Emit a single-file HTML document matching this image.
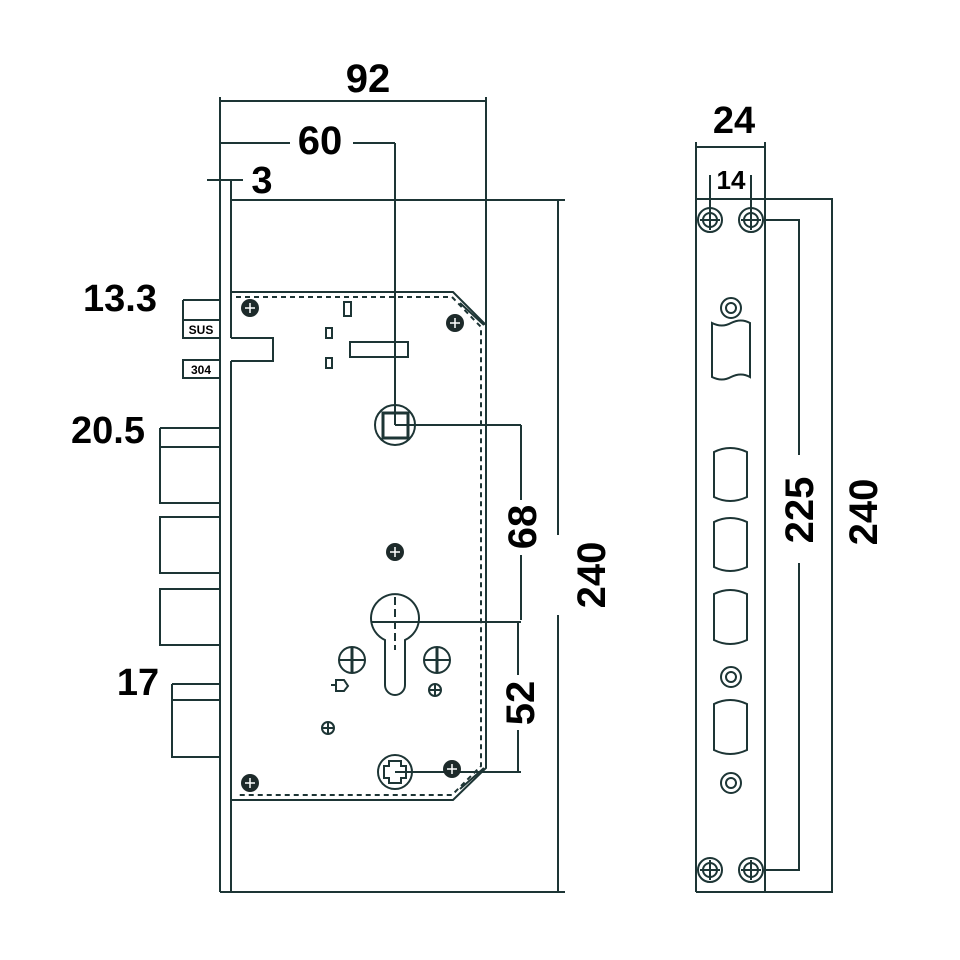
<!DOCTYPE html>
<html><head><meta charset="utf-8"><style>
html,body{margin:0;padding:0;background:#fff}
svg{display:block}
text{font-family:"Liberation Sans",Arial,sans-serif;font-weight:bold;fill:#000}
</style></head><body>
<svg width="960" height="960" viewBox="0 0 960 960" xmlns="http://www.w3.org/2000/svg">
<g stroke="#1d3535" stroke-width="2" fill="none">
<!-- faceplate left -->
<line x1="220" y1="97" x2="220" y2="892"/>
<line x1="231" y1="200" x2="231" y2="338"/>
<line x1="231" y1="361" x2="231" y2="892"/>
<polyline points="231,338 273,338 273,361 231,361"/>
<line x1="220" y1="892" x2="565" y2="892"/>
<!-- dims top -->
<line x1="220" y1="101" x2="486" y2="101"/>
<line x1="486" y1="97" x2="486" y2="325"/>
<line x1="220" y1="143" x2="290" y2="143"/>
<line x1="353" y1="143" x2="395" y2="143"/>
<line x1="395" y1="143" x2="395" y2="425"/>
<line x1="207" y1="180" x2="243" y2="180"/>
<line x1="231" y1="180" x2="231" y2="200"/>
<line x1="231" y1="200" x2="565" y2="200"/>
<line x1="558" y1="200" x2="558" y2="535"/>
<line x1="558" y1="615" x2="558" y2="892"/>
<!-- case -->
<polyline points="231,292 453,292 486,325 486,768 453,800 231,800"/>
<polyline points="236,297 452,297 481,327 481,766 452,795 236,795" stroke-dasharray="5,4"/>
<line x1="460" y1="303" x2="484" y2="325"/>
<line x1="460" y1="789" x2="484" y2="768"/>
<!-- small features -->
<rect x="344" y="302" width="7" height="14"/>
<rect x="326" y="328" width="6" height="10"/>
<rect x="326" y="358" width="6" height="10"/>
<rect x="350" y="342" width="58" height="15"/>
<!-- spindle -->
<circle cx="395" cy="425" r="20"/>
<rect x="383" y="413" width="25" height="25" stroke-width="3"/>
<line x1="395" y1="425" x2="521" y2="425"/>
<line x1="521" y1="425" x2="521" y2="500"/>
<line x1="521" y1="555" x2="521" y2="620"/>
<line x1="372" y1="622" x2="521" y2="622"/>
<line x1="518" y1="622" x2="518" y2="675"/>
<line x1="518" y1="730" x2="518" y2="772"/>
<line x1="395" y1="772" x2="521" y2="772"/>
<!-- cylinder -->
<path d="M385,640 A24,24 0 1 1 405,640 L405,685 A10,10 0 0 1 385,685 Z"/>
<line x1="395" y1="597" x2="395" y2="650" stroke-dasharray="8,4"/>
<circle cx="352" cy="660" r="13"/><line x1="339" y1="660" x2="365" y2="660"/><line x1="352" y1="647" x2="352" y2="673" stroke-width="3"/>
<circle cx="437" cy="660" r="13"/><line x1="424" y1="660" x2="450" y2="660"/><line x1="437" y1="647" x2="437" y2="673" stroke-width="3"/>
<circle cx="435" cy="690" r="6"/><line x1="429" y1="690" x2="441" y2="690"/><line x1="435" y1="684" x2="435" y2="696"/>
<circle cx="328" cy="728" r="6"/><line x1="322" y1="728" x2="334" y2="728"/><line x1="328" y1="722" x2="328" y2="734"/>
<path d="M336,680 L344,680 L348,686 L344,691 L336,691 Z M331,685 L336,685"/>
<circle cx="395" cy="772" r="17"/>
<path d="M389,761 h12 v5 h5 v12 h-5 v5 h-12 v-5 h-5 v-12 h5 z"/>
<!-- bolts -->
<line x1="160" y1="428" x2="220" y2="428"/>
<line x1="160" y1="428" x2="160" y2="503"/>
<rect x="160" y="447" width="60" height="56"/>
<rect x="160" y="517" width="60" height="56"/>
<rect x="160" y="589" width="60" height="56"/>
<line x1="172" y1="684" x2="220" y2="684"/>
<line x1="172" y1="684" x2="172" y2="757"/>
<rect x="172" y="700" width="48" height="57"/>
<line x1="183" y1="300" x2="220" y2="300"/>
<line x1="183" y1="300" x2="183" y2="320"/>
<rect x="183" y="320" width="37" height="18"/>
<rect x="183" y="360" width="37" height="18"/>
<!-- right plate -->
<line x1="696" y1="142" x2="696" y2="892"/>
<line x1="765" y1="142" x2="765" y2="892"/>
<line x1="696" y1="147" x2="765" y2="147"/>
<line x1="696" y1="199" x2="833" y2="199"/>
<line x1="696" y1="892" x2="833" y2="892"/>
<line x1="710" y1="175" x2="710" y2="230"/>
<line x1="751" y1="175" x2="751" y2="230"/>
<line x1="765" y1="220" x2="800" y2="220"/>
<line x1="765" y1="870" x2="800" y2="870"/>
<line x1="799" y1="220" x2="799" y2="455"/>
<line x1="799" y1="563" x2="799" y2="870"/>
<line x1="832" y1="199" x2="832" y2="892"/>
<circle cx="731" cy="308" r="10"/><circle cx="731" cy="308" r="5"/>
<circle cx="731" cy="677" r="10"/><circle cx="731" cy="677" r="5"/>
<circle cx="731" cy="783" r="10"/><circle cx="731" cy="783" r="5"/>
<path d="M712,323 Q722,328 731,323 Q741,318 750,323 L750,377 Q741,372 731,377 Q722,382 712,377 Z"/>
<path d="M714,452 Q730,444 747,452 L747,497 Q730,505 714,497 Z"/>
<path d="M714,522 Q730,514 747,522 L747,567 Q730,575 714,567 Z"/>
<path d="M714,594 Q730,586 747,594 L747,640 Q730,648 714,640 Z"/>
<path d="M714,704 Q730,696 747,704 L747,750 Q730,758 714,750 Z"/>
</g>
<!-- screws filled -->
<g fill="#1d2a2a">
<circle cx="250" cy="308" r="9"/><circle cx="455" cy="323" r="9"/>
<circle cx="395" cy="552" r="9"/><circle cx="250" cy="783" r="9"/><circle cx="452" cy="769" r="9"/>
</g>
<g stroke="#fff" stroke-width="1.5">
<line x1="245" y1="308" x2="255" y2="308"/><line x1="250" y1="303" x2="250" y2="313"/>
<line x1="450" y1="323" x2="460" y2="323"/><line x1="455" y1="318" x2="455" y2="328"/>
<line x1="390" y1="552" x2="400" y2="552"/><line x1="395" y1="547" x2="395" y2="557"/>
<line x1="245" y1="783" x2="255" y2="783"/><line x1="250" y1="778" x2="250" y2="788"/>
<line x1="447" y1="769" x2="457" y2="769"/><line x1="452" y1="764" x2="452" y2="774"/>
</g>
<g stroke="#1d3535" stroke-width="2" fill="none">
<circle cx="710" cy="220" r="12"/><circle cx="710" cy="220" r="7"/>
<circle cx="751" cy="220" r="12"/><circle cx="751" cy="220" r="7"/>
<circle cx="710" cy="870" r="12"/><circle cx="710" cy="870" r="7"/>
<circle cx="751" cy="870" r="12"/><circle cx="751" cy="870" r="7"/>
<path d="M700,220h20M710,210v20M741,220h20M751,210v20M700,870h20M710,860v20M741,870h20M751,860v20"/>
</g>
<!-- text -->
<text x="368" y="92" font-size="40" text-anchor="middle">92</text>
<text x="320" y="154" font-size="40" text-anchor="middle">60</text>
<text x="262" y="193" font-size="38" text-anchor="middle">3</text>
<text x="120" y="311" font-size="38" text-anchor="middle">13.3</text>
<text x="108" y="443" font-size="38" text-anchor="middle">20.5</text>
<text x="138" y="695" font-size="38" text-anchor="middle">17</text>
<text x="201" y="334" font-size="12" text-anchor="middle">SUS</text>
<text x="201" y="374" font-size="12" text-anchor="middle">304</text>
<text transform="translate(536,527) rotate(-90)" font-size="40" text-anchor="middle">68</text>
<text transform="translate(534,703) rotate(-90)" font-size="40" text-anchor="middle">52</text>
<text transform="translate(605,575) rotate(-90)" font-size="40" text-anchor="middle">240</text>
<text x="734" y="133" font-size="38" text-anchor="middle">24</text>
<text x="731" y="189" font-size="26" text-anchor="middle">14</text>
<text transform="translate(813,510) rotate(-90)" font-size="40" text-anchor="middle">225</text>
<text transform="translate(877,512) rotate(-90)" font-size="40" text-anchor="middle">240</text>
</svg>
</body></html>
